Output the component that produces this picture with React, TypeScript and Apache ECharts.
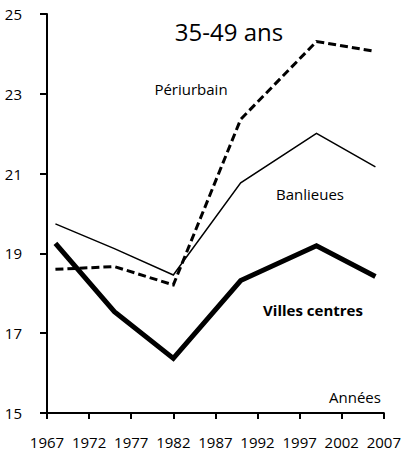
import React, { useEffect, useRef } from "react";
import * as echarts from "echarts";

const years = [1968, 1975, 1982, 1990, 1999, 2006];
const villesCentres = [19.25, 17.54, 16.37, 18.32, 19.19, 18.42];
const banlieues = [19.74, 19.12, 18.46, 20.77, 22.01, 21.17];
const periurbain = [18.6, 18.67, 18.21, 22.36, 24.31, 24.06];
const xStart = 1967;
const xEnd = 2007;
const yStart = 15;
const yEnd = 25;

const FONT = "Open Sans";

export default function App() {
  const ref = useRef<HTMLDivElement>(null);
  useEffect(() => {
    if (!ref.current) return;
    const chart = echarts.init(ref.current, null, { renderer: "svg" });
    const toData = (vals: number[]) => years.map((y, i) => [y - xStart, vals[i] - yStart]);
    chart.setOption({
      animation: false,
      grid: { left: 47, right: 19, top: 14, bottom: 39, containLabel: false },
      xAxis: {
        type: "value",
        min: 0,
        max: xEnd - xStart,
        interval: 5,
        splitLine: { show: false },
        axisLine: { show: true, onZero: false, lineStyle: { color: "#000", width: 2 } },
        axisTick: { show: true, inside: false, length: 6, lineStyle: { color: "#000", width: 2 } },
        axisLabel: {
          color: "#000",
          fontFamily: FONT,
          fontSize: 15,
          margin: 21,
          formatter: (v: number) => String(v + xStart),
        },
      },
      yAxis: {
        type: "value",
        min: 0,
        max: yEnd - yStart,
        interval: 2,
        splitLine: { show: false },
        axisLine: { show: true, lineStyle: { color: "#000", width: 2 } },
        axisTick: { show: true, inside: false, length: 7, lineStyle: { color: "#000", width: 2 } },
        axisLabel: {
          color: "#000",
          fontFamily: FONT,
          fontSize: 15,
          margin: 25,
          formatter: (v: number) => String(v + yStart),
        },
      },
      series: [
        {
          name: "Banlieues",
          type: "line",
          data: toData(banlieues),
          showSymbol: false,
          symbol: "none",
          lineStyle: { color: "#000", width: 1.5, join: "miter" },
        },
        {
          name: "Périurbain",
          type: "line",
          data: toData(periurbain),
          showSymbol: false,
          symbol: "none",
          lineStyle: { color: "#000", width: 3, type: [8, 4], join: "miter" },
        },
        {
          name: "Villes centres",
          type: "line",
          data: toData(villesCentres),
          showSymbol: false,
          symbol: "none",
          lineStyle: { color: "#000", width: 5, join: "miter" },
        },
      ],
      graphic: [
        {
          type: "text",
          x: 229,
          y: 31,
          style: { text: "35-49 ans", font: `24px "${FONT}"`, fill: "#000", align: "center", verticalAlign: "middle" },
        },
        {
          type: "text",
          x: 191,
          y: 89,
          style: { text: "Périurbain", font: `15px "${FONT}"`, fill: "#000", align: "center", verticalAlign: "middle" },
        },
        {
          type: "text",
          x: 310,
          y: 194,
          style: { text: "Banlieues", font: `15px "${FONT}"`, fill: "#000", align: "center", verticalAlign: "middle" },
        },
        {
          type: "text",
          x: 313,
          y: 310,
          style: { text: "Villes centres", font: `bold 15px "${FONT}"`, fill: "#000", align: "center", verticalAlign: "middle" },
        },
        {
          type: "text",
          x: 355,
          y: 397,
          style: { text: "Années", font: `15px "${FONT}"`, fill: "#000", align: "center", verticalAlign: "middle" },
        },
      ],
    });
    return () => chart.dispose();
  }, []);
  return (
    <div
      ref={ref}
      style={{ position: "fixed", left: 0, top: 0, width: 404, height: 452, background: "#fff" }}
    />
  );
}
